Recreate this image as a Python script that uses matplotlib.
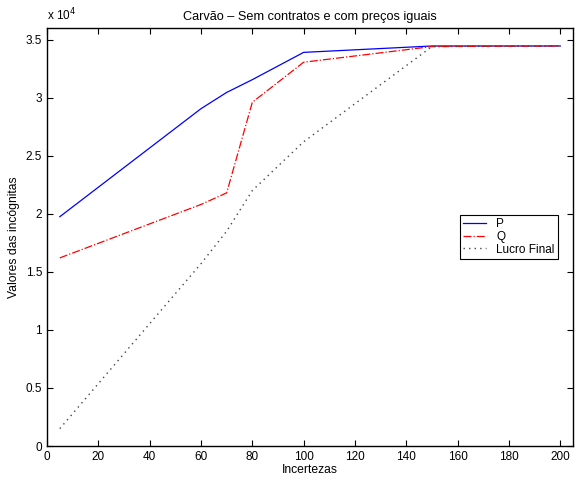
import matplotlib
matplotlib.use("Agg")
from matplotlib import pyplot as plt
from matplotlib.ticker import FuncFormatter, MultipleLocator

plt.rcParams['font.family'] = ['Liberation Sans', 'DejaVu Sans']

incertezas = [5, 60, 70, 80, 100, 150, 200]
p_vals = [19750, 29050, 30450, 31550, 33900, 34450, 34450]
q_vals = [16200, 20800, 21800, 29600, 33050, 34400, 34450]
lucro_vals = [1500, 15700, 18500, 22000, 26200, 34400, 34450]

fig = plt.figure(figsize=(5.76, 4.8), dpi=100)
ax = fig.add_axes([0.0816, 0.0708, 0.9134, 0.8709])

ax.plot(incertezas, p_vals, '-', color='blue', lw=0.9, label='P')
ax.plot(incertezas, q_vals, '-.', color='red', lw=0.9, label='Q')
ax.plot(incertezas, lucro_vals, color='#444444', lw=1.0, dashes=(1, 3), label='Lucro Final')

ax.set_xlim(0, 205)
ax.set_ylim(0, 36000)
ax.xaxis.set_major_locator(MultipleLocator(20))
ax.yaxis.set_major_locator(MultipleLocator(5000))
ax.yaxis.set_major_formatter(FuncFormatter(lambda v, pos: '%g' % (v / 1e4)))
ax.tick_params(direction='in', top=True, right=True, labelsize=8.5, length=4, width=0.8)
for s in ax.spines.values():
    s.set_linewidth(1.0)

ax.text(0.0, 1.012, r'x 10$^4$', transform=ax.transAxes, fontsize=8.5, ha='left', va='bottom')
ax.set_title('Carvão – Sem contratos e com preços iguais', fontsize=9.2, pad=6)
ax.set_xlabel('Incertezas', fontsize=8.7, labelpad=1)
ax.set_ylabel('Valores das incógnitas', fontsize=8.7, labelpad=4)

leg = ax.legend(loc='upper left', bbox_to_anchor=(0.773, 0.567), fontsize=8.5,
                fancybox=False, edgecolor='black', framealpha=1,
                handlelength=1.9, borderpad=0.3, labelspacing=0.05, handletextpad=0.9)
leg.get_frame().set_linewidth(0.8)

fig.savefig('out.png', dpi=100)
